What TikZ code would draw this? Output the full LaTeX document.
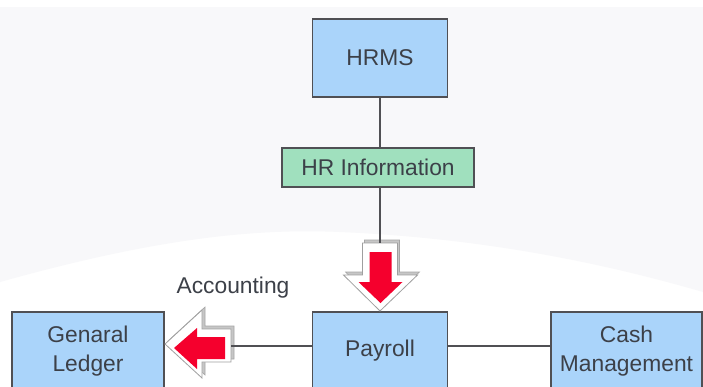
\documentclass[tikz,border=0pt]{standalone}
\usepackage{fontspec}
\setmainfont{Liberation Sans}
\definecolor{bgray}{RGB}{248,248,250}
\definecolor{boxblue}{RGB}{170,212,250}
\definecolor{boxgreen}{RGB}{160,224,190}
\definecolor{edgegray}{RGB}{80,80,84}
\definecolor{txtgray}{RGB}{60,64,72}
\definecolor{arrred}{RGB}{245,0,45}
\begin{document}
\begin{tikzpicture}[x=1pt,y=-1pt,
  box/.style={draw=edgegray,line width=1.1pt,inner sep=0pt,align=center,
    text=txtgray,font=\fontsize{22.8}{29}\selectfont},
  bluebox/.style={box,fill=boxblue},
  greenbox/.style={box,fill=boxgreen},
  conn/.style={draw=edgegray,line width=1.1pt},
  arrshadow/.style={fill=gray!45,draw=gray!70,line width=0.6pt},
  arrouter/.style={fill=white,draw=gray!75,line width=0.8pt,line join=miter},
  arrinner/.style={fill=arrred,draw=none}]
\useasboundingbox (0,0) rectangle (703,386);
\clip (0,0) rectangle (703,386);
% background
\fill[white] (0,0) rectangle (703,386);
\fill[bgray] (0,7) -- (703,7) -- (703,292)
  .. controls (600,262) and (480,238) .. (340,232)
  .. controls (250,228) and (150,240) .. (0,282) -- cycle;

% nodes
\node[bluebox,minimum width=135pt,minimum height=78pt] (hrms) at (380,58) {HRMS};
\node[greenbox,minimum width=192pt,minimum height=39pt] (hrinfo) at (378,167.5) {HR Information};
\node[bluebox,minimum width=135pt,minimum height=78pt] (payroll) at (380,351) {Payroll};
\node[bluebox,minimum width=152pt,minimum height=78pt] (gl) at (88,351) {Genaral\\Ledger};
\node[bluebox,minimum width=151pt,minimum height=78pt] (cash) at (626.5,351) {Cash\\Management};
\node[text=txtgray,font=\fontsize{22.8}{29}\selectfont,anchor=base,inner sep=0pt] (acc) at (233,293) {Accounting};

% arrow endpoints
\coordinate (dtop) at (380,243);
\coordinate (lright) at (231,346);

% down arrow
\path[arrshadow] (364.5,240) -- (399.5,240) -- (399.5,272) -- (419.5,272) -- (381.5,308) -- (345.5,272) -- (364.5,272) -- cycle;
\path[arrouter] (362.5,243) -- (397.5,243) -- (397.5,275) -- (417.5,275) -- (380,311) -- (343.5,275) -- (362.5,275) -- cycle;
\path[arrinner] (369.5,252) -- (391.5,252) -- (391.5,282) -- (402.5,282) -- (380.5,303) -- (358.5,282) -- (369.5,282) -- cycle;

% left arrow
\path[arrshadow] (168,341) -- (205,307) -- (205,326) -- (234,326) -- (234,359) -- (205,359) -- (205,375) -- cycle;
\path[arrouter] (165,344) -- (202,310) -- (202,329) -- (231,329) -- (231,362) -- (202,362) -- (202,378) -- cycle;
\path[arrinner] (174,348) -- (197,328) -- (197,337) -- (225,337) -- (225,359) -- (197,359) -- (197,369) -- cycle;

% connectors
\draw[conn] (hrms.south) -- (hrms.south |- hrinfo.north);
\draw[conn] (hrms.south |- hrinfo.south) -- (dtop);
\draw[conn] (payroll.west |- lright) -- (lright);
\draw[conn] (payroll.east |- lright) -- (cash.west |- lright);
\end{tikzpicture}
\end{document}
